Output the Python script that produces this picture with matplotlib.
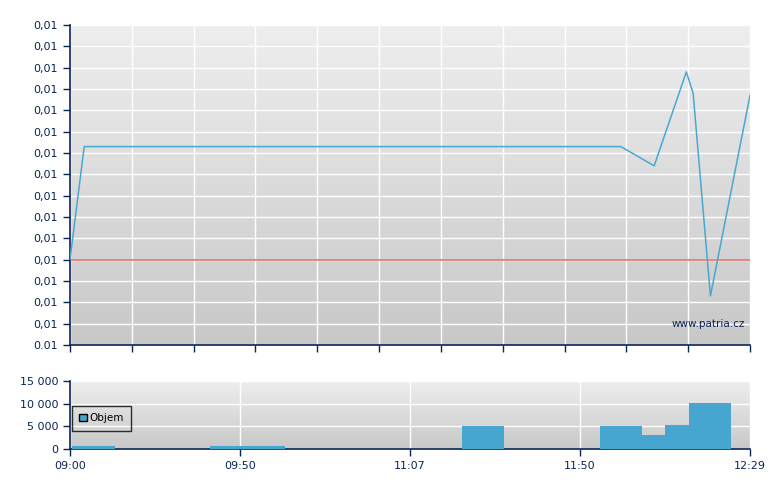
import matplotlib
matplotlib.use("Agg")
import matplotlib.pyplot as plt
import numpy as np
from matplotlib.patches import Patch

# price line (x in session units 0..11)
px = [0.0, 0.23, 8.91, 9.45, 9.97, 10.08, 10.36, 11.0]
price = [0.01040, 0.01093, 0.01093, 0.01084, 0.01128, 0.01118, 0.01023, 0.01117]
prev_close = 0.01040

# volume bars: left edge, width, value
vol_left = [0.04, 2.26, 6.34, 8.57, 9.25, 9.62, 10.01]
vol_width = [0.69, 1.22, 0.68, 0.68, 0.37, 0.39, 0.68]
volume = [600, 600, 5000, 5000, 3000, 5200, 10100]

time_pos = [0, 2.75, 5.5, 8.25, 11]
time_labels = ["09:00", "09:50", "11:07", "11:50", "12:29"]

yticks = [0.0100 + i * 0.0001 for i in range(16)]
ylabels = ["0.01"] + ["0,01"] * 15

navy = "#0b2456"
blue = "#4aa7d0"

fig = plt.figure(figsize=(7.8, 4.9), dpi=100)
ax = fig.add_axes([70/780, 1-345/490, 680/780, 320/490])
ax2 = fig.add_axes([70/780, 1-449/490, 680/780, 68/490])

grad = np.linspace(0, 1, 256).reshape(-1, 1)
cm = matplotlib.colors.LinearSegmentedColormap.from_list("g", ["#eeeeee", "#c8c8c8"])
for a in (ax, ax2):
    a.imshow(grad, extent=[0, 1, 0, 1], transform=a.transAxes, aspect="auto",
             cmap=cm, zorder=0)
    for s in ("top", "right"):
        a.spines[s].set_visible(False)
    for s in ("left", "bottom"):
        a.spines[s].set_color(navy)
        a.spines[s].set_linewidth(1.2)
    a.tick_params(colors=navy, labelcolor=navy, labelsize=8, length=5, width=1)
    a.grid(True, color="white", linewidth=1, zorder=1)
    a.set_axisbelow(True)

# top: price
ax.plot(px, price, color=blue, linewidth=1.1, zorder=3)
ax.axhline(prev_close, color="#e87272", linewidth=1.2, zorder=2)
ax.set_xlim(0, 11)
ax.set_ylim(yticks[0], yticks[-1])
ax.set_xticks(range(12))
ax.set_xticklabels([])
ax.set_yticks(yticks)
ax.set_yticklabels(ylabels)
ax.text(0.993, 0.065, "www.patria.cz", transform=ax.transAxes, ha="right", va="center",
        color=navy, fontsize=7.5, zorder=4)

# bottom: volume
ax2.bar(vol_left, volume, width=vol_width, align="edge", color="#47a6cf", zorder=3)
ax2.set_xlim(0, 11)
ax2.set_ylim(0, 15000)
ax2.set_yticks([0, 5000, 10000, 15000])
ax2.set_yticklabels(["0", "5 000", "10 000", "15 000"])
ax2.set_xticks(time_pos)
ax2.set_xticklabels(time_labels)
leg = ax2.legend(handles=[Patch(facecolor="#47a6cf", edgecolor="black", label="Objem")],
                 loc="center left", bbox_to_anchor=(0.003, 0.45), fontsize=7.5,
                 frameon=True, fancybox=False, handlelength=0.7, handleheight=0.7,
                 borderpad=0.7, handletextpad=0.3, borderaxespad=0)
leg.get_frame().set_edgecolor("black")
leg.get_frame().set_facecolor("none")
leg.get_frame().set_linewidth(1)

fig.savefig("out.png", dpi=100)
